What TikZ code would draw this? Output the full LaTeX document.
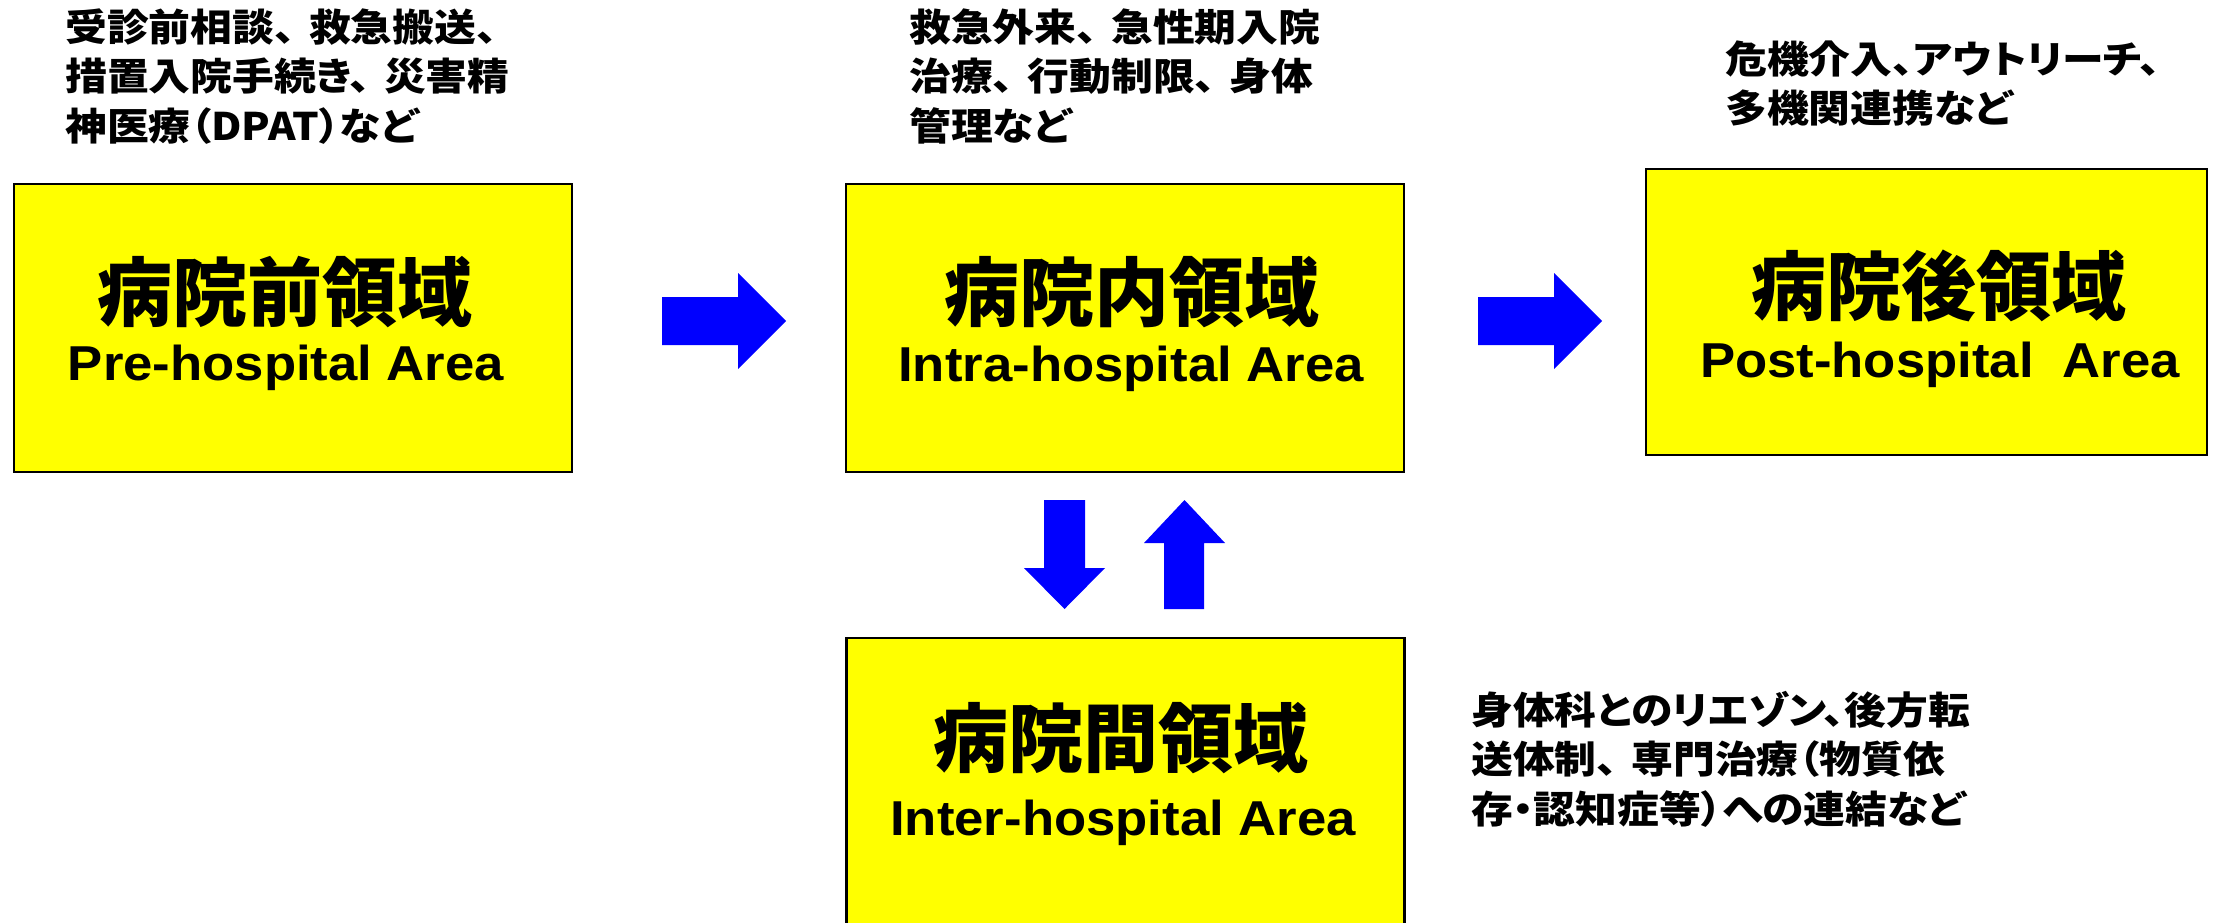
\documentclass[tikz,border=0pt]{standalone}
\usepackage{fontspec}
\setmainfont{Liberation Sans}
\newfontfamily\cjkfont{Noto Sans CJK JP}
\newfontfamily\cjklab[FakeStretch=1.1, RawFeature=+palt]{Noto Sans CJK JP}
\newfontfamily\entitle[FakeStretch=1.075]{Liberation Sans}
\newcommand\midcomma{、\kern14pt}
\definecolor{areayellow}{HTML}{FFFF00}
\definecolor{arrowblue}{HTML}{0000FF}
\begin{document}
\begin{tikzpicture}[x=1pt,y=-1pt,
  areabox/.style={draw=black, line width=2.5pt, fill=areayellow, inner sep=0pt, minimum width=558pt, minimum height=288pt},
  titlecjk/.style={font=\cjkfont\bfseries\fontsize{75}{80}\selectfont, anchor=base, inner sep=0pt},
  titleen/.style={font=\entitle\bfseries\fontsize{49}{55}\selectfont, anchor=base, inner sep=0pt},
  desclabel/.style={font=\cjklab\bfseries\fontsize{38}{49.5}\selectfont, anchor=base west, inner sep=0pt},
  blockarrow/.style={fill=arrowblue, draw=none}]
\fill[white] (0,0) rectangle (2221,922);
\clip (0,0) rectangle (2221,922);

% boxes
\node[areabox] (pre) at (293,328) {};
\node[areabox] (intra) at (1125,328) {};
\node[areabox, minimum width=561pt, minimum height=286pt] (post) at (1926.5,312) {};
\node[areabox, minimum height=300pt] (inter) at (1125.5,788) {};

% titles
\node[titlecjk] (preJ) at (285,320) {病院前領域};
\node[titleen] (preE) at (286,380) {Pre-hospital Area};
\node[titlecjk] (intraJ) at (1132,320) {病院内領域};
\node[titleen] (intraE) at (1131,381) {Intra-hospital Area};
\node[titlecjk] (postJ) at (1939,314) {病院後領域};
\node[titleen] (postE) at (1940,377) {Post-hospital\ \ Area};
\node[titlecjk] (interJ) at (1121,766) {病院間領域};
\node[titleen] (interE) at (1123,835) {Inter-hospital Area};

% description labels
\node[desclabel] (preL) at (65,41) {\vtop{\hbox{受診前相談\midcomma 救急搬送、}\hbox{措置入院手続き\midcomma 災害精}\hbox{神医療（DPAT）など}}};
\node[desclabel] (intraL) at (909,41) {\vtop{\hbox{救急外来\midcomma 急性期入院}\hbox{治療\midcomma 行動制限\midcomma 身体}\hbox{管理など}}};
\node[desclabel] (postL) at (1725,73) {\vtop{\hbox{危機介入、アウトリーチ、}\hbox{多機関連携など}}};
\node[desclabel] (interL) at (1471,724) {\vtop{\hbox{身体科とのリエゾン、後方転}\hbox{送体制\midcomma 専門治療（物質依}\hbox{存・認知症等）への連結など}}};

% block arrows
\fill[blockarrow] (662,297) -- (738,297) -- (738,273) -- (786,321) -- (738,369) -- (738,345) -- (662,345) -- cycle;
\fill[blockarrow] (1478,297) -- (1554,297) -- (1554,273) -- (1602,321) -- (1554,369) -- (1554,345) -- (1478,345) -- cycle;
\fill[blockarrow] (1044,500) -- (1085,500) -- (1085,568) -- (1105,568) -- (1064.5,609) -- (1024,568) -- (1044,568) -- cycle;
\fill[blockarrow] (1164,609) -- (1204,609) -- (1204,543) -- (1225,543) -- (1184.5,500) -- (1144,543) -- (1164,543) -- cycle;
\end{tikzpicture}
\end{document}
